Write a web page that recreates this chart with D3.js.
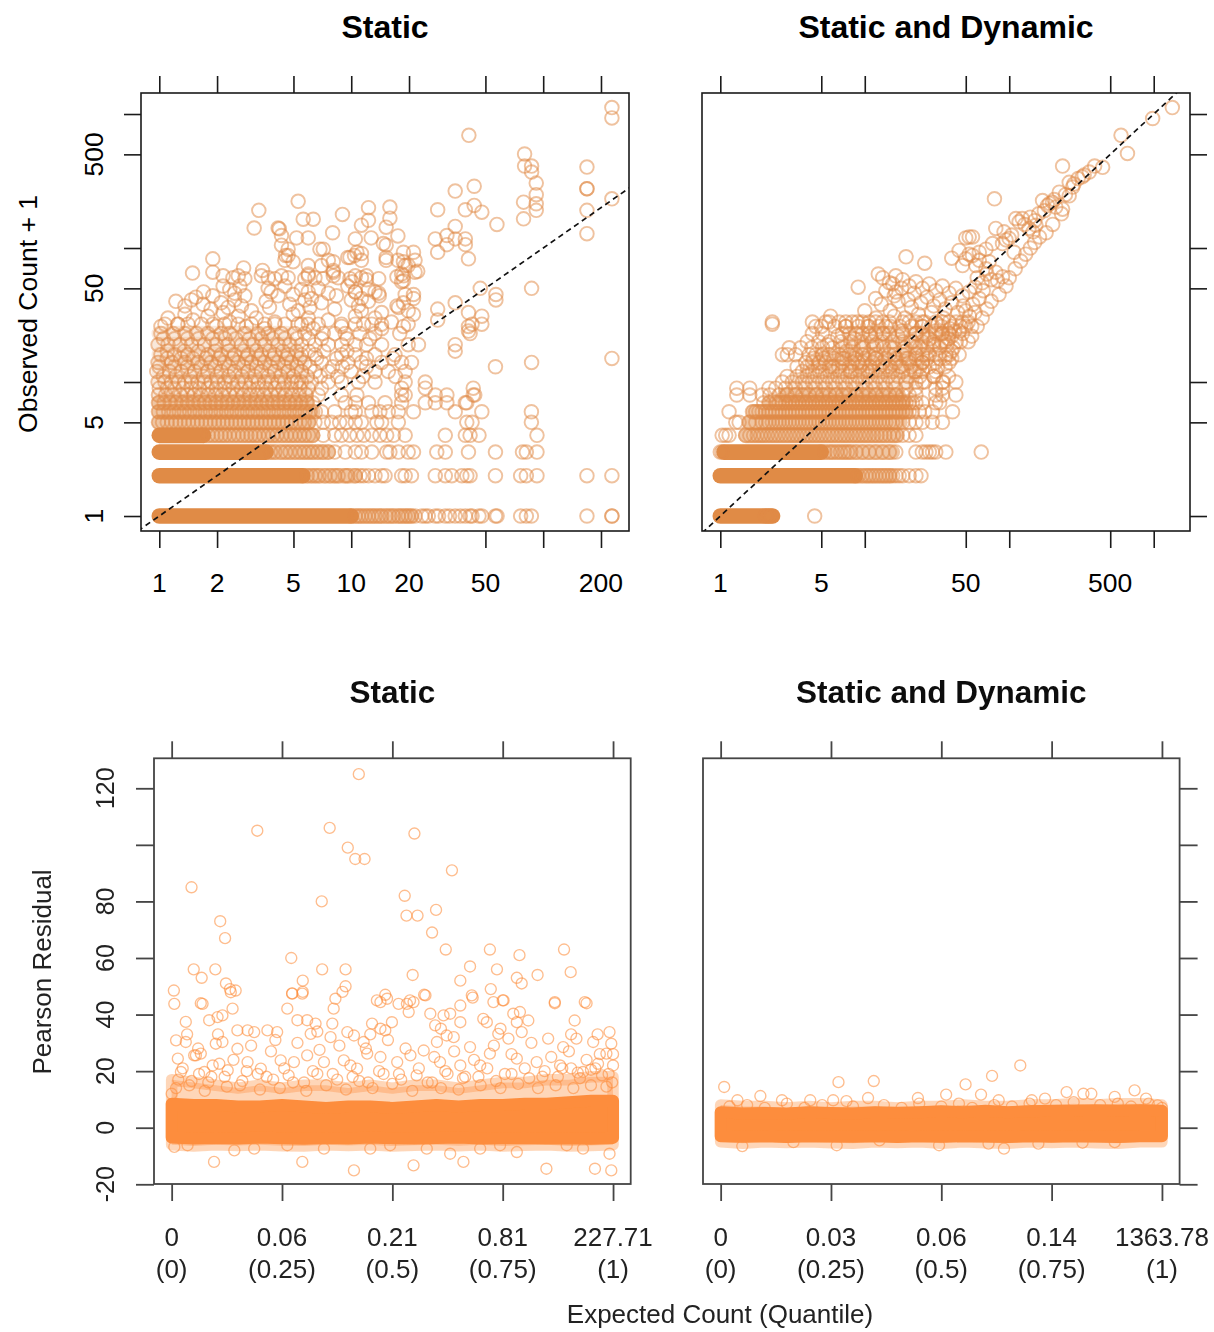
<!DOCTYPE html>
<html><head><meta charset="utf-8">
<script src="https://cdn.jsdelivr.net/npm/d3@7"></script>
<style>body{margin:0;background:#fff}</style>
</head><body>
<script>
// ================= DATA =================
// Top panels: expected count (x) vs observed count + 1 (y), log-log
const topYTicks = [1,5,10,50,100,500,1000];
const topYLabels = [1,5,50,500];
const staticXTicks = [1,2,5,10,20,50,100,200];
const staticXLabels = [1,2,5,10,20,50,200];
const dynXTicks = [1,5,10,50,100,500,1000];
const dynXLabels = [1,5,50,500];

// completely over-plotted rows: [observed+1, expected from, expected to]
const staticRuns = [[1,1.0,10.0],[2,1.0,5.6],[3,1.0,3.6],[4,1.0,1.7]];
// densely (but not fully) over-plotted rows
const staticSemiRuns = [[1,10,20.5],[2,5.6,10.5],[3,3.6,7.6],[4,1.7,6.3],[5,1.0,6.0],[6,1.0,6.3],[7,1.0,5.9]];
// loosely over-plotted rows inside the cloud
const staticMeshRuns = [[8,1.0,5.8],[10,1.0,5.8],[12,1.0,5.5],[14,1.0,5.5],[16,1.0,5.2],[19,1.0,5.0],[23,1.0,4.6]];
// rows of points sharing one observed value: [observed+1, [expected...]]
const staticRows = [
 [1,[10.5,10.9,11.3,11.8,12.3,12.8,13.3,13.9,14.4,15.2,15.9,16.6,17.6,18.3,19.1,19.8,20.6,21.5,23.3,24.3,25.2,27.4,28.5,30.9,32.5,34.8,37,39.3,41.6,42.6,46.3,47.9,56.4,57.5,76.3,81.7,86.8,169,228,228]],
 [2,[5.9,6.2,6.5,6.8,7.3,7.75,8.2,8.55,9.3,9.6,10.5,11.1,11.6,12.3,13.3,14.4,15.0,18.3,19.1,20.6,27.4,30.9,33.4,37.7,40,41.6,56.4,76.3,81.7,92.8,169,228]],
 [3,[3.8,4.0,4.3,4.55,4.8,5.1,5.4,5.7,6.0,6.3,6.7,7.1,7.6,8.2,9.3,10.5,11.3,12.8,15.3,15.9,17.6,19.8,21.1,27.9,30.9,40.8,56.4,78,81.7,92.8]],
 [4,[1.8,1.9,2.0,2.1,2.2,2.32,2.45,2.58,2.72,2.86,3.0,3.15,3.3,3.5,3.7,3.9,4.1,4.35,4.6,4.85,5.1,5.4,5.7,6.0,6.3,7.15,8.2,8.9,9.8,10.7,11.6,12.8,14.1,15.3,16.6,19.1,30.9,39.3,41.6,46.3,92.8]],
 [5,[0.99,1.04,1.1,1.16,1.22,1.28,1.35,1.42,1.5,1.58,1.66,1.75,1.84,1.94,2.04,2.15,2.26,2.38,2.5,2.63,2.77,2.92,3.07,3.23,3.4,3.58,3.77,3.97,4.18,4.4,4.63,4.87,5.13,5.4,5.7,6.0,6.47,7.15,7.9,8.7,9.45,10.5,11.3,13.6,14.4,17.6,40,42.6,86.8]],
 [6,[0.99,1.05,1.12,1.19,1.27,1.35,1.44,1.53,1.63,1.74,1.85,1.97,2.1,2.24,2.38,2.54,2.7,2.88,3.07,3.27,3.48,3.7,3.94,4.2,4.47,4.76,5.07,5.4,5.75,6.1,6.5,7.0,8.2,10.0,10.5,12.8,14.1,15.6,17.6,21.1,34.8,47.9,86.8]],
 [7,[0.99,1.06,1.14,1.22,1.31,1.4,1.5,1.61,1.72,1.84,1.97,2.11,2.26,2.42,2.59,2.77,2.97,3.18,3.4,3.64,3.9,4.17,4.47,4.78,5.12,5.48,5.86,6.3,9.3,10.5,12.3,15.0,18.3,24.3,27.4,31.5,39.3,40]],
 [8,[0.99,1.08,1.18,1.29,1.4,1.52,1.65,1.8,1.96,2.13,2.32,2.52,2.74,2.98,3.24,3.52,3.83,4.17,4.53,4.93,5.36,5.83,6.74,8.9,10.7,18.3,19.1,27.4,31.5,43.2,44]],
 [9,[1.0,1.1,1.2,1.33,1.47,1.62,1.79,1.98,2.19,2.42,2.68,2.95,3.27,3.6,4.0,4.4,4.88,5.4,5.97,7.0,18.3,24.3,43.2]],
 [10,[0.985,1.07,1.16,1.26,1.36,1.47,1.59,1.72,1.86,2.02,2.19,2.38,2.58,2.8,3.02,3.28,3.54,3.85,4.16,4.5,4.88,5.2,5.5,6.21,7.6,8.9,10.9,13.3,19.1,24.3]],
 [11,[1.05,1.22,1.45,1.7,2.0,2.3,2.7,3.15,3.7,4.3,5.0,5.9,6.9,8.5,11.5,17.0]],
 [12,[0.97,1.13,1.3,1.53,1.79,2.1,2.47,2.9,3.4,4.0,4.69,5.5,6.47,7.6,10.0,13.3,15.6,19.1]],
 [13,[1.0,1.2,1.4,1.65,1.95,2.3,2.75,3.2,3.8,4.5,5.2,6.1,8.0,9.0,12.0,56.4]],
 [14,[0.985,1.16,1.36,1.59,1.86,2.19,2.58,3.02,3.54,4.16,4.88,5.73,7.0,9.6,11.3,14.4,18.3,20.6,87]],
 [15,[1.1,1.3,1.5,1.75,2.05,2.4,2.85,3.3,3.9,4.6,5.4,6.6,8.4,12,16.5,228]],
 [16,[1.02,1.2,1.41,1.79,2.1,2.47,2.9,3.4,4.0,4.69,5.5,6.47,8.9,10.5,13.3,16.9]],
 [17,[1.1,1.35,1.6,1.95,2.3,2.75,3.2,3.75,4.4,5.2,6.0,7.2,9.5,34.8]],
 [19,[0.985,1.11,1.28,1.47,1.72,1.98,2.28,2.68,3.08,3.54,4.16,4.78,5.5,6.47,7.6,8.9,10.5,12.0,14.4,19.8,22.4,34.8]],
 [21,[1.05,1.2,1.4,1.6,1.9,2.2,2.5,2.95,3.4,3.9,4.5,5.2,6.0,7.0,9.5,12.5]],
 [23,[1.02,1.18,1.36,1.56,1.79,2.1,2.33,2.79,3.27,3.69,4.33,5.08,5.73,7.15,8.2,9.3,11.1,13.3,17.9,41.6]],
 [27,[1.07,1.25,1.41,1.66,1.9,2.19,2.58,3.02,3.54,4.0,4.51,5.29,5.97,6.74,8.9,10.5,12.8,14.4,19.8,42.6,47.9]]
];
// scattered points: [expected, observed+1]
const staticPts = [
 [228,1117],[228,935],[41,694],[80,503],[80,409],[87,409],[87,369],[92,305],[92,250],[92,214],[92,191],[79,220],[79,165],[169,402],[169,277],[169,277],[169,191],[169,128],[228,233],[43.7,289],[34.8,266],[43.7,208],[39.3,193],[47.9,185],[28.2,193],[57.4,150],[34.8,145],[31.5,124],[27.4,117],[34.8,117],[39.3,117],[28.2,93],[31.5,106],[39.3,106],[40.8,83],[87,50],[56.7,45],[56.7,41],[47,50],[34.8,39],[40.8,33],[47.9,31],[28.2,35],[40.8,26],[40.8,24],[28.2,29],
 [3.3,191],[3.12,141],[5.29,223],[6.34,164],[5.62,164],[9.0,178],[12.3,200],[15.9,202],[15.9,167],[12.3,161],[11.3,148],[15.2,143],[17.5,123],[12.7,119],[10.5,117],[8.0,130],[4.16,141],[4.22,139],[1.9,83],[1.9,66],[1.49,65],[2.75,71],[3.45,68],[4.33,105],[4.55,88],[4.69,98],[5.19,119],[5.97,119],[7.15,98],[8.06,79],[8.06,68],[9.85,85],[11.3,91],[15.2,85],[15.2,105],[18.7,93],[21.1,93],[18.7,79],[22.2,67],[18.7,62],[18.7,57],[21.1,45],[18.7,39],[21.1,32],[17.3,37],[14,44],[12,62],[10.4,88],[10.1,56],[10.5,47],[13.3,47],[4.33,124],[4.69,88],[4.51,81],[4.98,79],[5.97,74],[5.97,64],[6.87,98],[7.0,74],[7.6,81],[8.06,66],[9.6,85],[10.7,93],[11.3,81],[14.7,108],[15.2,81],[17.5,81],[18.3,64],[19.1,74],[19.8,74],[21.5,81],[21.5,66],[17.3,61],[18.3,56],
 [2.15,62],[2.42,60],[2.58,62],[2.79,59],[3.4,62],[3.69,60],[4.0,59],[4.33,62],[4.69,60],[5.73,59],[5.97,62],[6.47,60],[7.15,59],[8.06,62],[8.55,60],[9.85,59],[10.5,62],[11.3,60],[12.0,58],[13.9,59],
 [2.15,52],[2.33,49],[2.47,46],[2.63,52],[2.79,44],[3.69,50],[3.82,47],[4.16,44],[4.51,52],[4.98,45],[5.5,49],[5.97,47],[6.21,42],[6.74,50],[7.6,46],[8.37,44],[9.6,52],[10.5,47],[11.3,42],[12.3,49],[13.9,46],[19.1,45],[21.1,42],[1.7,47],[1.9,44],[1.55,43],
 [1.22,40],[1.36,37],[1.47,41],[1.69,38],[1.86,35],[2.1,39],[2.28,36],[2.47,41],[2.68,37],[3.02,34],[3.6,40],[3.75,36],[4.78,38],[5.29,34],[5.73,41],[6.09,36],[7.0,39],[8.2,35],[10.0,41],[10.9,37],[11.3,34],[12.3,40],[14.4,33],[17.6,36],[19.8,34],
 [1.02,26],[1.11,30],[1.25,27],[1.36,32],[1.5,29],[1.79,31],[1.98,26],[2.15,33],[2.33,28],[2.58,31],[2.84,26],[3.2,30],[3.54,25],[4.0,28],[4.98,32],[5.5,27],[5.97,30],[6.34,25],[7.6,29],[8.9,26],[10.5,31],[11.6,27],[13.3,30],[14.4,25],[16.2,28],[18.7,26]
];

const dynRuns = [[1,1.0,2.3],[2,1.0,8.6],[3,1.06,5.0]];
const dynSemiRuns = [[2,8.6,15],[3,5.0,15.5],[4,1.5,16.5],[5,1.6,17.5],[6,1.7,19],[7,2.2,18.5],[8,2.8,17]];
const dynMeshRuns = [[10,3.3,20],[12,4.0,22],[14,4.5,25],[16,5.0,28],[19,7.0,32],[23,8.0,38]];
const dynRows = [
 [1,[2.05,2.15,2.25,4.5]],
 [2,[9.0,9.6,10.2,10.7,11.3,11.9,12.6,13.3,14.0,14.8,15.6,16.4,17.3,18.3,20.3,22.6,24.5]],
 [3,[1.0,1.03,5.3,5.7,6.0,6.4,6.8,7.2,7.6,8.0,8.7,9.65,10.7,11.9,13.3,14.8,16.4,22.6,25,26.5,28,29.4,31,36.4,64]],
 [4,[1.03,1.09,1.15,1.5,1.6,1.7,1.8,1.9,2.0,2.12,2.25,2.38,2.52,2.67,2.83,3.0,3.18,3.37,3.57,3.78,4.0,4.24,4.5,4.77,5.05,5.35,5.67,6.0,6.4,6.8,7.2,7.6,8.1,8.6,9.1,9.65,10.2,10.8,11.5,12.2,13.0,13.8,14.8,15.8,16.8,18.3,20.3,22.6]],
 [5,[1.28,1.35,1.58,1.76,1.95,2.06,2.17,2.29,2.42,2.55,2.69,2.83,2.99,3.15,3.32,3.5,3.7,3.9,4.12,4.34,4.58,4.83,5.09,5.37,5.66,5.97,6.3,6.64,7.0,7.4,7.8,8.2,8.7,9.15,9.65,10.2,10.7,11.3,11.9,12.6,13.3,14.0,14.8,15.6,16.4,18.3,20.3,22.6,25.1,29.4,34.5]],
 [6,[1.15,1.67,1.76,1.85,1.95,2.06,2.17,2.29,2.42,2.55,2.69,2.83,2.99,3.15,3.32,3.5,3.7,3.9,4.12,4.34,4.58,4.83,5.09,5.37,5.66,5.97,6.3,6.64,7.0,7.4,7.8,8.2,8.7,9.15,9.65,10.2,10.7,11.3,11.9,12.6,13.3,14.0,14.8,15.6,16.4,17.3,18.3,19.3,20.3,21.4,23.8,26,29.4,40.5]],
 [7,[2.0,2.17,2.42,2.55,2.69,2.83,2.99,3.15,3.32,3.5,3.7,3.9,4.12,4.34,4.58,4.83,5.09,5.37,5.66,5.97,6.3,6.64,7.0,7.4,7.8,8.2,8.7,9.15,9.65,10.2,10.7,11.3,11.9,12.6,13.3,14.0,14.8,15.6,16.4,17.3,18.3,19.3,20.3,21.4,22.6,25,31,33]],
 [8,[1.3,1.6,1.95,2.2,2.55,2.9,3.3,3.7,4.12,4.6,5.1,5.7,6.3,7.0,7.8,8.7,9.65,10.7,11.9,13.3,14.8,16.4,18.3,20.3,22.6,31,34.5,42.7]],
 [9,[1.3,1.6,2.17,2.42,2.83,3.32,3.9,4.58,5.37,6.3,7.4,8.7,10.2,11.9,14.0,16.4,19.3,22.6,31,34.5]],
 [10,[2.69,3.15,3.7,4.34,5.09,5.97,7.0,8.2,9.65,11.3,13.3,15.6,19.3,22.6,25.1,34.5,42.7]],
 [11,[2.9,3.4,4.0,4.7,5.5,6.5,7.6,8.9,10.5,12.3,14.5,17,20,24,30,38]],
 [12,[3.7,4.34,5.09,5.97,7.0,8.2,9.65,11.3,13.3,15.6,18.3,22.6,25.1,31]],
 [13,[3.4,4.0,4.8,5.7,6.6,7.8,9.2,10.8,12.6,15,17.5,21,24,28,36]],
 [14,[3.9,4.34,4.83,5.37,7.0,8.2,9.65,11.3,13.3,16.4,20.3,25.1,31,38.4]],
 [15,[4.4,5.2,6.1,7.2,8.5,10,11.8,13.9,16.4,19.3,22.7,27,33,40]],
 [16,[2.69,2.91,3.32,4.12,4.58,5.09,5.66,6.64,7.8,8.7,9.65,10.7,11.9,14.8,18.3,22.6,25.1,31,36.4,38.4]],
 [18,[3.0,3.6,4.3,5.1,6,7,8.3,9.8,11.5,13.5,16,19,22.5,27,33,41]],
 [20,[4.0,4.8,5.7,6.8,8,9.5,11.2,13.2,15.5,18.3,21.5,25,30,36,43,52]],
 [23,[4.34,5.09,7.0,7.8,8.7,9.65,10.7,11.9,13.3,14.8,18.3,22.6,25.1,31,34.5,38.4,47.5]],
 [26,[5,6.2,7.4,9,10.5,12.5,15,17.5,21,25,29,34,40,46,55]],
 [28,[2.29,4.34,5.37,6.64,7.4,8.2,9.65,10.7,11.9,13.3,14.8,18.3,22.6,25.1,31,34.5,38.4,47.5]]
];
const dynPts = [
 [1345,1117],[983,926],[594,694],[658,508],[234,409],[358,369],[390,409],[443,400],[260,309],[275,285],[222,261],[260,245],[234,195],[199,220],[170,226],[184,208],[210,202],[79,233],[162,121],[111,166],[123,166],[117,157],[137,140],[146,132],[153,148],[52.8,121],[55.7,121],[50,119],[80.7,140],[92,132],[99.8,118],[108,93],[89.8,108],[76.6,108],[69,98],[62,93],[55.7,88],[50,83],[47.5,74],[58.7,74],[72.6,79],[80.7,66],[89.8,61],[83,57],[69,70],[62,81],[52.8,90],[19.3,86],[26,77],[40,84],[45,96],[12.4,64],[9,51],[15.6,54],[16.4,47],[11.9,42],[10,34],[5.8,31],[2.29,27],[4.58,26],[5.66,28],[7.4,26],[8.9,28],[10.7,26],
 [13.3,60],[14.8,55],[16.4,62],[18.3,58],[20.3,52],[22.6,56],[25.1,50],[27.9,54],[31,48],[34.5,52],[38.4,46],[42.7,50],[47.5,44],[52.8,47],
 [14,48],[16,44],[18,50],[20,41],[22,46],[24.5,39],[27,43],[30,37],[33,41],[36,35],[40,39],[44,33],[48,37],[53,31],
 [13,38],[15,34],[17,40],[19,30],[21,36],[23.5,32],[26,28],[29,33],[32,27],[35,30],[39,25],[43,28],
 [12,30],[14,26],[16,31],[18,24],[20.3,28],[22.6,23],[25,26],[28,21],[31,24],[34,20],
 [60,60],[65,55],[58,51],[70,64],[75,58],[66,48],[62,42],[56,38],[50,34],[45,24],[40,22],[37,19],[52,28],[58,33],
 [95,115],[104,125],[128,150],[140,170],[150,160],[160,180],[175,190],[190,215],[205,230],[245,250],[300,330],[320,340],[330,350],[280,300],
 [5.5,19],[6.5,22],[7.5,17],[8.5,21],[9.5,18],[11,22],[12,19],[13.5,23],[15,18],[17,22],[19,17],[21,20],[24,18],[27,22],[30,19],[34,23],[38,21],[42,24],[46,20],[50,26],
 [6,13],[7,15],[8,12],[9,14],[10.5,12],[12,15],[14,13],[16,16],[18,13],[20,15],[22,12],[25,14],[28,16],[32,13],[36,15],[40,17],[45,16],[30,11],[26,10],[35,10],
 [55,22],[60,26],[65,30],[70,35],[75,40],[85,45],[95,52],[100,60],[110,70],[120,80],[130,90],[140,100],[150,110],[180,130],[200,150],[230,180]
];

// Bottom panels: quantile of expected count (x) vs Pearson residual (y)
const quantTicks = [0,0.25,0.5,0.75,1];
const quantLabels = ["(0)","(0.25)","(0.5)","(0.75)","(1)"];
const staticQuantValues = ["0","0.06","0.21","0.81","227.71"];
const dynQuantValues = ["0","0.03","0.06","0.14","1363.78"];
const residTicks = [-20,0,20,40,60,80,100,120];
const residLabels = [-20,0,20,40,60,80,120];

// envelope of the over-plotted mass of points (residual range of point centres)
const bandQ = [0,0.05,0.1,0.15,0.2,0.25,0.3,0.35,0.4,0.45,0.5,0.55,0.6,0.65,0.7,0.75,0.8,0.85,0.9,0.95,1];
const staticCoreHi = [8.5,8,8,7.5,7.5,8,7.5,7,7.5,7.5,7,7.5,8,7.5,8,8,8.5,8.5,9,9.5,9.5];
const staticCoreLo = [-3.5,-3.8,-3.6,-3.8,-3.5,-3.7,-3.9,-3.6,-3.8,-3.5,-3.7,-3.8,-3.6,-3.5,-3.8,-3.7,-3.6,-3.8,-3.7,-3.9,-3.6];
const staticHaloHi = [17,16,15,14,15,14,15,15,14,15,14,15,15,14,15,16,16,17,17,18,18];
const staticHaloLo = [-6,-6.5,-6,-6.3,-6,-6.4,-6.5,-6,-6.3,-6,-6.5,-6.2,-6,-6.4,-6,-6.5,-6.2,-6,-6.5,-6.3,-6];
const dynCoreHi = [5.5,5,5.2,5,5.5,5.2,5,5.5,5.3,5.5,5.8,5.5,6,5.5,5.8,6,6,6.2,6,6.2,6];
const dynCoreLo = [-3,-3.2,-3,-3.3,-3,-3.1,-3.2,-3,-3.3,-3,-3.2,-3,-3.1,-3.3,-3,-3.2,-3,-3.1,-3.3,-3,-3];
const dynHaloHi = [8,7.5,7.5,7,7.5,7,7.5,7.5,7,7.5,7.5,8,7.5,7.5,8,8,8.5,8,8.5,8.5,8];
const dynHaloLo = [-5,-5.5,-5,-5.2,-5,-5.3,-5.5,-5,-5.2,-5,-5.5,-5,-5.3,-5.5,-5,-5.2,-5,-5.3,-5.5,-5,-5];

const staticResid = [
 [0.424,125],[0.194,105],[0.358,106],[0.55,104],[0.399,99],[0.416,95],[0.437,95],[0.635,91],[0.045,85],[0.34,80],[0.528,82],[0.532,75],[0.557,75],[0.599,77],[0.59,69],[0.621,63],[0.11,73],[0.121,67],[0.271,60],[0.721,63],[0.889,63],[0.788,61],[0.676,57],[0.737,56],[0.904,55],[0.829,54],[0.546,54],[0.341,56],[0.394,56],[0.05,56],[0.099,56],[0.068,53],[0.654,52],[0.297,52],[0.782,53],[0.793,51],[0.123,51],[0.132,49],[0.145,48.5],[0.005,48.5],[0.394,50],[0.387,48],[0.273,47.5],[0.297,48],[0.723,49],[0.484,47],[0.572,47],[0.682,46],[0.75,45],[0.868,44],[0.94,44],[0.465,45],[0.54,45],[0.066,44],
 [0.006,43.8],[0.07,43.8],[0.134,47.9],[0.138,42.1],[0.115,39.7],[0.032,37.4],[0.085,38],[0.104,39.1],[0.01,30.9],[0.032,30.3],[0.014,24.4],[0.055,25.6],[0.066,26.2],[0.1,29.7],[0.108,22.6],[0.115,30.3],[0.149,34.4],[0.172,34.4],[0.187,33.8],[0.217,34.4],[0.239,33.8],[0.262,42.1],[0.273,47.4],[0.296,47.4],[0.285,38],[0.307,38],[0.326,36.8],[0.315,33.2],[0.367,42.1],[0.371,45.6],[0.364,36.8],[0.36,32],[0.398,33.8],[0.413,32.6],[0.435,30.3],[0.454,36.8],[0.473,44.4],[0.488,45.6],[0.473,35],[0.484,34.4],[0.499,37.3],[0.514,43.8],[0.533,43.8],[0.537,40.9],[0.548,44.4],[0.575,46.8],[0.586,40.3],[0.597,36.2],[0.616,39.7],[0.631,40.3],[0.654,37.3],[0.601,30.3],[0.623,32.6],[0.639,32],[0.654,43.2],[0.68,46.8],[0.706,38.5],[0.714,37.3],[0.729,44.4],[0.752,45],[0.74,33.2],[0.763,31.5],[0.774,40.3],[0.789,40.9],[0.782,37.3],[0.808,37.9],[0.793,33.8],[0.853,31.5],[0.868,44.4],[0.887,28.5],[0.913,37.9],[0.917,31.5],[0.936,44.4],[0.955,30.3],[0.992,33.8],[0.996,29.7],[0.985,26.2],[1.0,22],[0.966,22.6],[0.932,19.7],[0.88,22],[0.827,23.2],[0.782,24.4],[0.721,26.2],[0.699,22],[0.676,28.5],[0.654,22],[0.608,23.2],[0.571,27.3],[0.541,25.6],[0.511,23.2],[0.473,25],[0.443,26.2],[0.42,20.9],[0.39,23.8],[0.345,23.2],[0.307,25.6],[0.277,23.2],[0.247,23.8],[0.202,20.9],[0.172,23.2],[0.149,27.9],[0.127,20.3],[0.093,22],[0.074,19.7],[0.051,25.6],[0.021,19.7],[0.0,12],
 [0.006,-6.8],[0.036,-6.2],[0.096,-12.1],[0.142,-8],[0.187,-7.4],[0.262,-6.2],[0.296,-12.1],[0.345,-7.4],[0.413,-15.1],[0.45,-7.4],[0.495,-6.2],[0.548,-13.3],[0.578,-7.4],[0.631,-9.2],[0.661,-12.1],[0.699,-7.4],[0.744,-6.2],[0.782,-8.6],[0.849,-14.5],[0.895,-6.2],[0.932,-7.4],[0.959,-14.5],[0.996,-15.1],[0.992,-9.2],
 [0.015,17],[0.04,15],[0.062,19],[0.083,16],[0.12,18],[0.16,16.5],[0.195,19],[0.23,17],[0.265,18.5],[0.3,16],[0.33,19],[0.375,17],[0.41,18],[0.445,16],[0.48,19],[0.52,17],[0.555,18.5],[0.59,16],[0.625,19],[0.66,17.5],[0.695,18],[0.735,16.5],[0.77,19],[0.81,17.5],[0.845,20],[0.875,18],[0.905,21],[0.925,17.5],[0.95,20.5],[0.975,18.5],[0.998,16],
 [0.01,14],[0.025,21],[0.045,16.5],[0.06,28],[0.075,13],[0.09,18],[0.105,33],[0.125,14.5],[0.14,24],[0.155,15],[0.17,20],[0.18,29],[0.2,13.5],[0.215,18],[0.225,27],[0.245,14],[0.255,21],[0.275,16],[0.285,30],[0.305,13],[0.32,20],[0.335,27.5],[0.35,15],[0.365,19],[0.38,29],[0.395,13.5],[0.405,22],[0.425,16.5],[0.44,28],[0.455,14],[0.47,20],[0.49,31],[0.5,15.5],[0.515,19],[0.53,28],[0.545,13],[0.56,21],[0.58,16],[0.595,25],[0.61,14],[0.62,20],[0.64,27],[0.65,13.5],[0.665,18],[0.685,24],[0.7,15],[0.715,21],[0.73,29],[0.745,14],[0.755,19],[0.77,26],[0.785,15.5],[0.8,21],[0.815,30],[0.83,14],[0.84,18],[0.86,25],[0.87,15],[0.885,21],[0.9,27],[0.91,14],[0.92,19.5],[0.94,24],[0.95,15],[0.96,21],[0.97,26],[0.985,14.5],[0.99,19],[1.0,26],[0.965,33],[0.905,33],[0.745,35],[0.61,35],[0.45,33],[0.33,34],[0.035,33],[0.235,31]
];
const dynResid = [
 [0.008,14.4],[0.267,16.1],[0.347,16.5],[0.555,15.3],[0.615,18.3],[0.679,22],[0.938,13.2],[0.784,12.6],[0.822,12],[0.84,12],[0.893,10.9],[0.964,10.3],[0.511,11.7],[0.59,11.7],[0.447,10.5],[0.203,9.7],[0.09,11.2],[0.038,9.7],[0.139,9.7],[0.255,9.7],[0.285,9.4],[0.334,10.5],[0.735,10.3],[0.705,9.7],[0.63,9.7],[0.99,7.9],
 [0.049,-6.5],[0.642,-7.4],[0.263,-6.2],[0.495,-6.2],[0.607,-5.6],[0.72,-5.6],[0.36,-4.5],[0.165,-5.1],[0.893,-5.1],[0.82,-5.3],
 [0.02,7.5],[0.06,8],[0.1,7],[0.15,8.5],[0.19,7],[0.23,8],[0.3,7.5],[0.37,8],[0.41,7],[0.45,8.5],[0.5,7.5],[0.54,8.5],[0.57,7],[0.62,8],[0.66,7.5],[0.7,8.5],[0.76,8],[0.8,9],[0.86,8],[0.9,8.5],[0.93,7.5],[0.97,8.5],[1.0,7]
];

// ================= DRAWING =================
const FONT = '"Liberation Sans", Arial, Helvetica, sans-serif';
const svg = d3.select("body").append("svg").attr("width",1214).attr("height",1332)
  .style("background","#fff").attr("font-family",FONT);
const defs = svg.append("defs");
defs.append("filter").attr("id","soft").attr("x","-5%").attr("y","-5%").attr("width","110%").attr("height","110%")
  .append("feGaussianBlur").attr("stdDeviation",0.55);

const yTop = d3.scaleLog().domain([0.773,1435]).range([531,93]);
const xTL = d3.scaleLog().domain([0.803,279.9]).range([141,629]);
const xTR = d3.scaleLog().domain([0.747,1783]).range([702,1190]);
const yBot = d3.scaleLinear().domain([-19.9,130.6]).range([1184,758.3]);
const xBL = d3.scaleLinear().domain([-0.04,1.04]).range([154,630.7]);
const xBR = d3.scaleLinear().domain([-0.04,1.04]).range([703,1179.6]);

function clipFor(id,x,y){
  const [xa,xb]=x.range(), [ya,yb]=y.range();
  defs.append("clipPath").attr("id",id).append("rect")
    .attr("x",xa).attr("y",yb).attr("width",xb-xa).attr("height",ya-yb);
}
function frame(g,x,y,col,w){
  const [xa,xb]=x.range(), [ya,yb]=y.range();
  g.append("rect").attr("x",xa).attr("y",yb).attr("width",xb-xa).attr("height",ya-yb)
    .attr("fill","none").attr("stroke",col).attr("stroke-width",w);
}
function tickAxis(g,axisFn,scale,vals,size,tr,col,w){
  const a = g.append("g").attr("transform",tr)
    .call(axisFn(scale).tickValues(vals).tickSize(size).tickSizeOuter(0).tickFormat(""));
  a.select(".domain").remove();
  a.selectAll("line").attr("stroke",col).attr("stroke-width",w);
}

// ---------- top panels ----------
const TOPCOL = "#E08B46";
function topPanel(id,x,runs,semi,mesh,rows,pts,xTicks,xLabels,title,leftAxis){
  const g = svg.append("g");
  clipFor(id,x,yTop);
  const inner = g.append("g").attr("clip-path",`url(#${id})`);
  const runLine = (sel,data,op)=>sel.append("g").selectAll("line").data(data).join("line")
    .attr("x1",d=>x(d[1])).attr("x2",d=>x(d[2])).attr("y1",d=>yTop(d[0])).attr("y2",d=>yTop(d[0]))
    .attr("stroke",TOPCOL).attr("stroke-opacity",op).attr("stroke-width",15.6).attr("stroke-linecap","round");
  runLine(inner,mesh,0.2);
  runLine(inner,semi,0.5);
  runLine(inner,runs,1);
  const all = rows.flatMap(([yv,xs])=>xs.map(xv=>[xv,yv])).concat(pts);
  inner.append("g").selectAll("circle").data(all).join("circle")
    .attr("cx",d=>x(d[0])).attr("cy",d=>yTop(d[1])).attr("r",6.8)
    .attr("fill","none").attr("stroke",TOPCOL).attr("stroke-width",1.9).attr("stroke-opacity",0.52);
  const lo = Math.min(x.domain()[0],yTop.domain()[0]), hi = Math.max(x.domain()[1],yTop.domain()[1]);
  inner.append("line").attr("x1",x(lo)).attr("y1",yTop(lo)).attr("x2",x(hi)).attr("y2",yTop(hi))
    .attr("stroke","#111").attr("stroke-width",1.7).attr("stroke-dasharray","5.5,4");
  frame(g,x,yTop,"#1a1a1a",1.6);
  const [xa,xb]=x.range();
  tickAxis(g,d3.axisTop,x,xTicks,17,"translate(0,93)","#1a1a1a",1.6);
  tickAxis(g,d3.axisBottom,x,xTicks,17,"translate(0,531)","#1a1a1a",1.6);
  if(leftAxis){
    tickAxis(g,d3.axisLeft,yTop,topYTicks,17,`translate(${xa},0)`,"#1a1a1a",1.6);
    g.selectAll("text.yl").data(topYLabels).join("text").attr("class","yl")
      .attr("transform",d=>`translate(102.5,${yTop(d)}) rotate(-90)`)
      .attr("text-anchor","middle").attr("font-size",26.5).attr("fill","#000").text(d=>d);
  } else {
    tickAxis(g,d3.axisRight,yTop,topYTicks,17,`translate(${xb},0)`,"#1a1a1a",1.6);
  }
  g.selectAll("text.xl").data(xLabels).join("text").attr("class","xl")
    .attr("x",d=>x(d)).attr("y",592).attr("text-anchor","middle")
    .attr("font-size",26.5).attr("fill","#000").text(d=>d);
  g.append("text").attr("x",(xa+xb)/2).attr("y",37.5).attr("text-anchor","middle")
    .attr("font-size",32).attr("font-weight","bold").attr("fill","#000").text(title);
}
topPanel("cTL",xTL,staticRuns,staticSemiRuns,staticMeshRuns,staticRows,staticPts,staticXTicks,staticXLabels,"Static",true);
topPanel("cTR",xTR,dynRuns,dynSemiRuns,dynMeshRuns,dynRows,dynPts,dynXTicks,dynXLabels,"Static and Dynamic",false);
svg.append("text").attr("transform","translate(37,314) rotate(-90)").attr("text-anchor","middle")
  .attr("font-size",26.5).attr("fill","#000").text("Observed Count + 1");

// ---------- bottom panels ----------
const BOTCOL = "#FD8D3C";
const bottom = svg.append("g").attr("filter","url(#soft)");
function botPanel(id,x,coreHi,coreLo,haloHi,haloLo,pts,valLabels,title,leftAxis){
  const g = bottom.append("g");
  clipFor(id,x,yBot);
  const inner = g.append("g").attr("clip-path",`url(#${id})`);
  const area = (hi,lo)=>d3.area().x((d,i)=>x(bandQ[i])).y0((d,i)=>yBot(lo[i])).y1((d,i)=>yBot(hi[i]))(bandQ);
  inner.append("path").attr("d",area(haloHi,haloLo)).attr("fill",BOTCOL).attr("fill-opacity",0.36)
    .attr("stroke",BOTCOL).attr("stroke-opacity",0.36).attr("stroke-width",11.5).attr("stroke-linejoin","round");
  inner.selectAll("circle").data(pts).join("circle")
    .attr("cx",d=>x(d[0])).attr("cy",d=>yBot(d[1])).attr("r",5.5)
    .attr("fill","none").attr("stroke",BOTCOL).attr("stroke-width",1.35).attr("stroke-opacity",0.58);
  inner.append("path").attr("d",area(coreHi,coreLo)).attr("fill",BOTCOL)
    .attr("stroke",BOTCOL).attr("stroke-width",12).attr("stroke-linejoin","round");
  frame(g,x,yBot,"#444",1.8);
  const [xa,xb]=x.range();
  tickAxis(g,d3.axisTop,x,quantTicks,17,"translate(0,758.3)","#444",1.8);
  tickAxis(g,d3.axisBottom,x,quantTicks,17,"translate(0,1184)","#444",1.8);
  if(leftAxis){
    tickAxis(g,d3.axisLeft,yBot,residTicks,18,`translate(${xa},0)`,"#444",1.8);
    g.selectAll("text.yl").data(residLabels).join("text").attr("class","yl")
      .attr("transform",d=>`translate(114,${yBot(d)}) rotate(-90)`)
      .attr("text-anchor","middle").attr("font-size",25).attr("fill","#222").text(d=>d);
  } else {
    tickAxis(g,d3.axisRight,yBot,residTicks,18,`translate(${xb},0)`,"#444",1.8);
  }
  g.selectAll("text.v").data(quantTicks).join("text").attr("class","v")
    .attr("x",d=>x(d)).attr("y",1246).attr("text-anchor","middle")
    .attr("font-size",26).attr("fill","#222").text((d,i)=>valLabels[i]);
  g.selectAll("text.q").data(quantTicks).join("text").attr("class","q")
    .attr("x",d=>x(d)).attr("y",1278).attr("text-anchor","middle")
    .attr("font-size",26).attr("fill","#222").text((d,i)=>quantLabels[i]);
  g.append("text").attr("x",(xa+xb)/2).attr("y",703).attr("text-anchor","middle")
    .attr("font-size",31.5).attr("font-weight","bold").attr("fill","#111").text(title);
}
botPanel("cBL",xBL,staticCoreHi,staticCoreLo,staticHaloHi,staticHaloLo,staticResid,staticQuantValues,"Static",true);
botPanel("cBR",xBR,dynCoreHi,dynCoreLo,dynHaloHi,dynHaloLo,dynResid,dynQuantValues,"Static and Dynamic",false);
bottom.append("text").attr("transform","translate(51,972) rotate(-90)").attr("text-anchor","middle")
  .attr("font-size",26).attr("fill","#222").text("Pearson Residual");
bottom.append("text").attr("x",720).attr("y",1323).attr("text-anchor","middle")
  .attr("font-size",26).attr("fill","#222").text("Expected Count (Quantile)");
</script>
</body></html>
